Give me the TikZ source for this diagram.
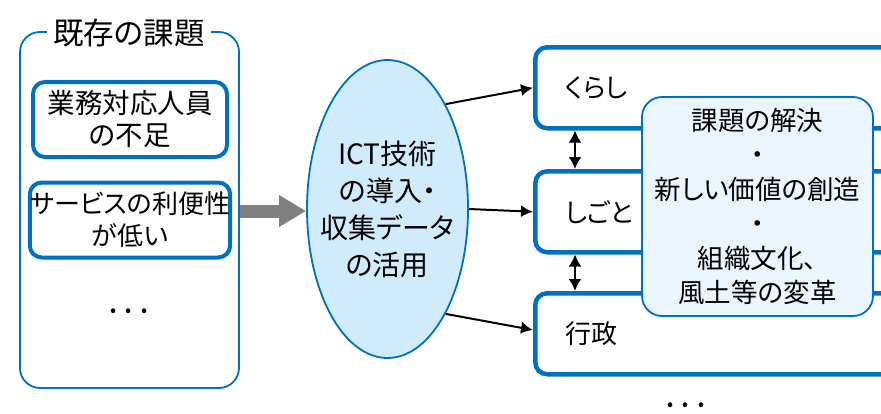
\documentclass[tikz,border=0pt]{standalone}
\usepackage{fontspec}
\setmainfont{Noto Sans CJK JP}[RawFeature=+palt]
\usetikzlibrary{shapes.geometric,arrows.meta,calc}
\definecolor{mblue}{HTML}{0070C0}
\definecolor{ellfill}{HTML}{D0EBFC}
\definecolor{resfill}{HTML}{EAF5FD}
\definecolor{agray}{HTML}{808080}
\tikzset{
  outerbox/.style={draw=mblue, line width=1.8pt, rounded corners=20pt, minimum width=219pt, minimum height=356pt},
  issuebox/.style={draw=mblue, line width=4pt, rounded corners=12pt, minimum width=194pt, minimum height=75pt, align=center, inner sep=0pt, font=\fontsize{27.5}{32}\selectfont},
  areabox/.style={draw=mblue, line width=4.5pt, rounded corners=12pt, text width=330pt, inner xsep=30pt, inner ysep=0pt, minimum height=81pt, align=left, anchor=north west, font=\fontsize{26}{32}\selectfont},
  ictell/.style={ellipse, draw=mblue, line width=1.8pt, fill=ellfill, minimum width=161pt, minimum height=298pt, inner sep=0pt},
  icttext/.style={align=center, inner sep=0pt, font=\fontsize{28}{37}\selectfont},
  resbox/.style={draw=mblue, line width=1.8pt, fill=resfill, rounded corners=20pt, minimum width=231pt, minimum height=219pt, inner sep=0pt, align=center, font=\fontsize{26.5}{34.5}\selectfont},
  conn/.style={line width=2pt, -{Latex[length=12pt,width=12pt]}},
  dconn/.style={line width=2pt, {Latex[length=12pt,width=13pt]}-{Latex[length=12pt,width=13pt]}},
  bigarrow/.style={agray, line width=13pt, -{Triangle[length=27pt,width=30pt]}},
  dots/.style={font=\fontsize{18}{18}\selectfont, inner sep=0pt}
}
\begin{document}
\begin{tikzpicture}[x=1pt,y=-1pt]
\useasboundingbox (0,0) rectangle (881,413);
% left column
\node[outerbox] (outer) at (129.5,210) {};
\node[fill=white, inner xsep=6pt, inner ysep=0pt, font=\fontsize{30.5}{30}\selectfont] (title) at (129,33) {既存の課題};
\node[issuebox] (iss1) at (130,119.5) {業務対応人員\\の不足};
\node[issuebox, font=\fontsize{26}{32}\selectfont] (iss2) at (130,220) {サービスの利便性\\が低い};
\node[dots] (ldots) at (129,313) {•\hspace{9pt}•\hspace{9pt}•};
% ellipse
\node[ictell] (ict) at (387.5,209) {};
\node[icttext] (ictlabel) at (ict.center) {ICT技術\\の導入・\\収集データ\\の活用};
\draw[bigarrow] (outer.east |- 0,211) coordinate (ga) -- (ict.west |- ga);
% right areas
\node[areabox] (kurashi) at (533,45) {くらし};
\node[areabox] (shigoto) at (533,169) {しごと};
\node[areabox] (gyosei) at (533,291) {行政};
\draw[conn] (ict.61) -- (kurashi.west);
\draw[conn] (ict.east) -- (shigoto.west);
\draw[conn] (ict.-61) -- (gyosei.west |- 0,330);
\draw[dconn] ($(kurashi.south west)+(42,0)$) -- ($(shigoto.north west)+(42,0)$);
\draw[dconn] ($(shigoto.south west)+(42,0)$) -- ($(gyosei.north west)+(42,0)$);
% result box
\node[resbox] (res) at (757.5,206.5) {課題の解決\\・\\新しい価値の創造\\・\\組織文化、\\風土等の変革};
\node[dots] (rdots) at (686,407) {•\hspace{9pt}•\hspace{9pt}•};
\end{tikzpicture}
\end{document}
